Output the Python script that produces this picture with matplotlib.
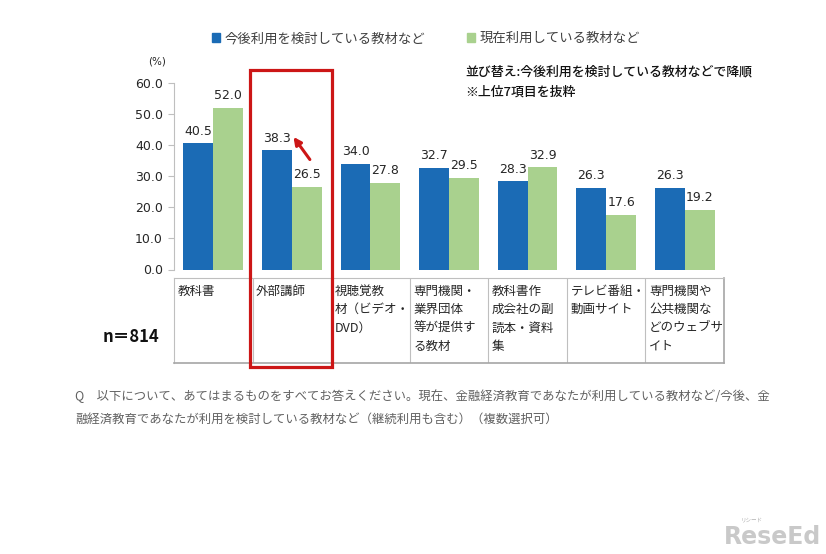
import numpy as np
import matplotlib
matplotlib.use("Agg")
import matplotlib.pyplot as plt
from matplotlib.patches import Patch, Rectangle
from matplotlib.transforms import blended_transform_factory

plt.rcParams['font.family'] = ['Noto Sans CJK JP', 'DejaVu Sans']

# data
categories = [
    ["教科書"],
    ["外部講師"],
    ["視聴覚教", "材（ビデオ・", "DVD）"],
    ["専門機関・", "業界団体", "等が提供す", "る教材"],
    ["教科書作", "成会社の副", "読本・資料", "集"],
    ["テレビ番組・", "動画サイト"],
    ["専門機関や", "公共機関な", "どのウェブサ", "イト"],
]
future_use = [40.5, 38.3, 34.0, 32.7, 28.3, 26.3, 26.3]
current_use = [52.0, 26.5, 27.8, 29.5, 32.9, 17.6, 19.2]
series_names = ["今後利用を検討している教材など", "現在利用している教材など"]
yticks = [0, 10, 20, 30, 40, 50, 60]
highlight = 1

BLUE = "#1b6bb5"
GREEN = "#a9d18e"
RED = "#cc1616"
GRID = "#bfbfbf"

W, H = 826, 554
fig = plt.figure(figsize=(W / 100, H / 100), dpi=100)


def fx(px):
    return px / W


def fy(py):
    return 1 - py / H


ax = fig.add_axes([fx(174), fy(269.5), fx(724) - fx(174), fy(82.7) - fy(269.5)])
x = np.arange(len(categories))
bw = 0.38
b1 = ax.bar(x - bw / 2, future_use, bw, color=BLUE)
b2 = ax.bar(x + bw / 2, current_use, bw, color=GREEN)
for bars in (b1, b2):
    ax.bar_label(bars, fmt="%.1f", padding=4, fontsize=9, family="DejaVu Sans", color="#262626")

ax.set_xlim(-0.5, len(categories) - 0.5)
ax.set_ylim(0, 60)
ax.set_yticks(yticks)
ax.set_yticklabels(["%.1f" % v for v in yticks], fontsize=9, family="DejaVu Sans", color="#262626")
ax.set_xticks([])
for s in ("top", "right", "bottom"):
    ax.spines[s].set_visible(False)
ax.spines["left"].set_color(GRID)
ax.tick_params(axis="y", length=4, color=GRID, pad=4)

# category table under the plot
tax = fig.add_axes([fx(174), fy(363), fx(724) - fx(174), fy(277.7) - fy(363)])
tax.set_xlim(-0.5, len(categories) - 0.5)
tax.set_ylim(363 - 277.7, 0)
tax.set_xticks([])
tax.set_yticks([])
for s in ("top", "left"):
    tax.spines[s].set_color(GRID)
for s in ("right", "bottom"):
    tax.spines[s].set_color("#a6a6a6")
    tax.spines[s].set_linewidth(1.2)
tax.vlines(x[1:] - 0.5, 0, 363 - 277.7, color=GRID, lw=0.8)
for i, lines in enumerate(categories):
    for k, line in enumerate(lines):
        tax.text(i - 0.5 + 0.045, 13.3 + 18.5 * k, line, fontsize=9,
                 va="center", ha="left", color="#262626")

# highlight box and arrow
bt = blended_transform_factory(ax.transData, fig.transFigure)
fig.patches.append(Rectangle((highlight - 0.53, fy(367)), 1.045, fy(70) - fy(367),
                             transform=bt, fill=False, ec=RED, lw=2.3))
ax.annotate("", xy=(highlight + 0.0, future_use[highlight] + 5.0),
            xytext=(highlight + 0.25, future_use[highlight] - 3.7),
            arrowprops=dict(arrowstyle="-|>", color=RED, lw=2.2, mutation_scale=11),
            annotation_clip=False)

# legend
handles = [Patch(color=BLUE), Patch(color=GREEN)]
fig.legend(handles, series_names, loc="center", bbox_to_anchor=(fx(426), fy(38)),
           ncol=2, frameon=False, fontsize=9.6, handlelength=0.6, handleheight=0.6,
           handletextpad=0.3, columnspacing=3.2, labelcolor="#404040")

fig.text(fx(157), fy(61), "(%)", fontsize=7.5, ha="center", va="center",
         family="DejaVu Sans", color="#262626")
fig.text(fx(465), fy(72), "並び替え:今後利用を検討している教材などで降順", fontsize=9.3,
         ha="left", va="center", color="#111111", weight="medium")
fig.text(fx(465), fy(92), "※上位7項目を抜粋", fontsize=9.3,
         ha="left", va="center", color="#111111", weight="medium")
fig.text(fx(103), fy(337), "n＝814", fontsize=12, ha="left", va="center",
         weight="bold", color="#111111")

fig.text(fx(75), fy(396),
         "Q　以下について、あてはまるものをすべてお答えください。現在、金融経済教育であなたが利用している教材など/今後、金",
         fontsize=8.9, ha="left", va="center", color="#606060")
fig.text(fx(75), fy(419),
         "融経済教育であなたが利用を検討している教材など（継続利用も含む）（複数選択可）",
         fontsize=8.9, ha="left", va="center", color="#606060")

# watermark
fig.text(fx(821), fy(537), "ReseEd", fontsize=17, weight="bold", ha="right",
         va="center", color="#c9c9c9", family="DejaVu Sans")
fig.text(fx(752), fy(520), "リシード", fontsize=4, ha="center", va="center", color="#b0b0b0")

fig.savefig("out.png", dpi=100)
